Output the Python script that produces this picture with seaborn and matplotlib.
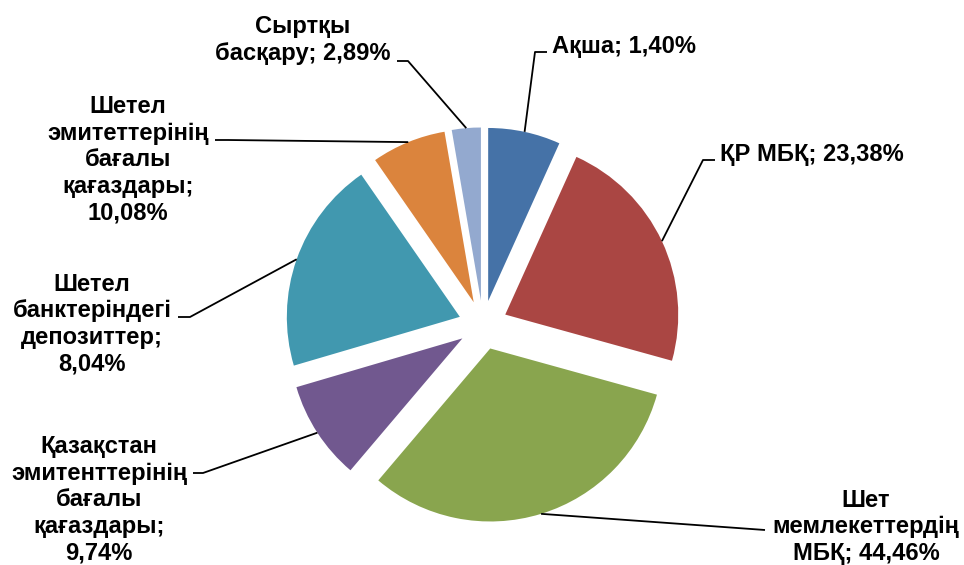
"""Exploded pie chart: portfolio structure with leader-line labels."""

import matplotlib.pyplot as plt
import numpy as np
import seaborn as sns

sns.set_theme(style="white")
plt.rcParams["font.family"] = ["Liberation Sans", "DejaVu Sans"]

W, H = 964, 565
RADIUS = 173

CATEGORIES = [
    "Ақша",
    "ҚР МБҚ",
    "Шет\nмемлекеттердің\nМБҚ",
    "Қазақстан\nэмитенттерінің\nбағалы\nқағаздары",
    "Шетел\nбанктеріндегі\nдепозиттер",
    "Шетел\nэмитеттерінің\nбағалы\nқағаздары",
    "Сыртқы\nбасқару",
]
# percentages printed in the labels
LABEL_PCT = ["1,40%", "23,38%", "44,46%", "9,74%", "8,04%", "10,08%", "2,89%"]
# slice shares as drawn in the picture (they differ from the printed labels)
SLICE_SHARE = [6.75, 22.55, 31.9, 9.25, 19.9, 6.95, 2.7]
COLORS = ["#4572A7", "#AA4643", "#89A54E", "#71588F", "#4198AF", "#DB843D", "#93A9CF"]

# label layout in pixel coords (x, y from top): text anchor, elbow, text-side end
LABEL_LAYOUT = [
    dict(text=(552, 46), ha="left", elbow=(535, 52), end=(547, 52), sep="; "),
    dict(text=(720, 155), ha="left", elbow=(703, 160), end=(715, 160), sep="; "),
    dict(text=(866, 527), ha="center", elbow=(765, 530), end=(765, 530), sep="; "),
    dict(text=(99, 500), ha="center", elbow=(203, 473), end=(193, 473), sep=";\n"),
    dict(text=(92, 324), ha="center", elbow=(190, 317), end=(178, 317), sep=";\n"),
    dict(text=(128, 160), ha="center", elbow=(228, 140), end=(215, 140), sep=";\n"),
    dict(text=(303, 40), ha="center", elbow=(408, 61), end=(397, 61), sep="; "),
]


def px(x, y):
    return x, H - y


fig = plt.figure(figsize=(W / 100, H / 100), dpi=100)
ax = fig.add_axes([0, 0, 1, 1])

# matplotlib's explode is in data units, not a fraction of the radius
wedges, _ = ax.pie(
    SLICE_SHARE,
    colors=COLORS,
    startangle=90,
    counterclock=False,
    center=px(483, 325),
    radius=RADIUS,
    explode=[0.142 * RADIUS] * len(SLICE_SHARE),
    wedgeprops=dict(linewidth=0),
    frame=True,
)
ax.set_xlim(0, W)
ax.set_ylim(0, H)
ax.set_axis_off()

for wedge, cat, pct, lay in zip(wedges, CATEGORIES, LABEL_PCT, LABEL_LAYOUT):
    mid = np.deg2rad((wedge.theta1 + wedge.theta2) / 2)
    cx, cy = wedge.center
    arc_pt = (cx + wedge.r * np.cos(mid), cy + wedge.r * np.sin(mid))
    ex, ey = px(*lay["elbow"])
    tx, ty = px(*lay["end"])
    ax.plot([arc_pt[0], ex, tx], [arc_pt[1], ey, ty], color="black", lw=1.3,
            solid_capstyle="butt")

    label = f"{cat}{lay['sep']}{pct}"
    x, y = px(*lay["text"])
    ax.text(x, y, label, ha=lay["ha"], va="center", multialignment="center",
            fontsize=17.1, fontweight="bold", color="black")

fig.savefig("out.png", dpi=100)
